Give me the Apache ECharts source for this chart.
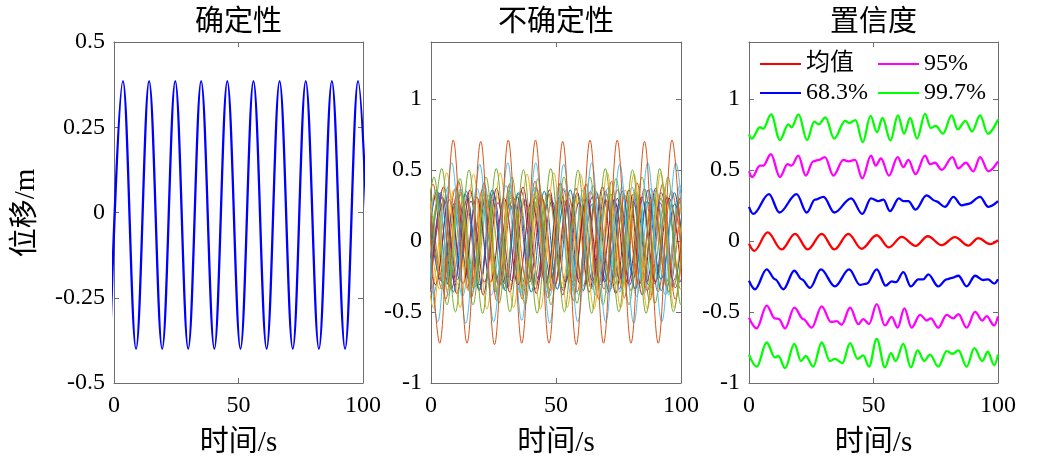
<!DOCTYPE html>
<html>
<head>
<meta charset="utf-8">
<script src="https://cdn.jsdelivr.net/npm/echarts@6/dist/echarts.min.js"></script>
<style>
  html, body { margin: 0; padding: 0; background: #fff; }
  #chart { width: 1040px; height: 468px; }
</style>
</head>
<body>
<div id="chart"></div>
<script>
// 各面板标题与坐标轴
const panelTitles = ['确定性', '不确定性', '置信度']
const xName = '时间/s'
const yName = '位移/m'

// 确定性响应：波峰/波谷读数点 [t, y]
const deterministic = [
  [-1.65, -0.40], [3.6, 0.385], [8.85, -0.40], [14.1, 0.385], [19.35, -0.40],
  [24.6, 0.385], [29.8, -0.40], [35.0, 0.385], [40.3, -0.40], [45.5, 0.385],
  [50.8, -0.40], [56.0, 0.385], [61.3, -0.40], [66.5, 0.385], [71.8, -0.40],
  [77.0, 0.385], [82.3, -0.40], [87.5, 0.385], [92.8, -0.40], [98.0, 0.385],
  [103.3, -0.40]
]

// 不确定性样本（各样本的极值点）
const s01 = [[-3,-0.30],[2,0.33],[7,-0.31],[12,0.34],[17,-0.32],[22,0.33],[27,-0.30],[32,0.32],[37,-0.33],[42,0.31],[47,-0.30],[52,0.33],[57,-0.32],[62,0.30],[67,-0.31],[72,0.33],[77,-0.30],[82,0.32],[87,-0.31],[92,0.30],[97,-0.32],[102,0.31]]
const s02 = [[-1,0.36],[4.4,-0.34],[9.8,0.37],[15.2,-0.35],[20.6,0.36],[26,-0.36],[31.4,0.35],[36.8,-0.34],[42.2,0.37],[47.6,-0.35],[53,0.36],[58.4,-0.36],[63.8,0.35],[69.2,-0.34],[74.6,0.36],[80,-0.35],[85.4,0.37],[90.8,-0.36],[96.2,0.35],[101.6,-0.34]]
const s03 = [[-4.7,0.30],[0.5,-0.32],[5.7,0.30],[10.9,-0.31],[16.1,0.32],[21.3,-0.30],[26.5,0.31],[31.7,-0.32],[36.9,0.30],[42.1,-0.31],[47.3,0.32],[52.5,-0.30],[57.7,0.31],[62.9,-0.32],[68.1,0.30],[73.3,-0.31],[78.5,0.32],[83.7,-0.30],[88.9,0.31],[94.1,-0.32],[99.3,0.30],[104.5,-0.31]]
const s04 = [[-3.1,-0.33],[2.5,0.35],[8.1,-0.34],[13.7,0.33],[19.3,-0.35],[24.9,0.34],[30.5,-0.33],[36.1,0.35],[41.7,-0.34],[47.3,0.33],[52.9,-0.35],[58.5,0.34],[64.1,-0.33],[69.7,0.35],[75.3,-0.34],[80.9,0.33],[86.5,-0.35],[92.1,0.34],[97.7,-0.33],[103.3,0.35]]
const s05 = [[-1.8,-0.28],[3,0.30],[7.8,-0.29],[12.6,0.28],[17.4,-0.30],[22.2,0.29],[27,-0.28],[31.8,0.30],[36.6,-0.29],[41.4,0.28],[46.2,-0.30],[51,0.29],[55.8,-0.28],[60.6,0.30],[65.4,-0.29],[70.2,0.28],[75,-0.30],[79.8,0.29],[84.6,-0.28],[89.4,0.30],[94.2,-0.29],[99,0.28],[103.8,-0.30]]
const s06 = [[-4.8,0.38],[1,-0.37],[6.8,0.38],[12.6,-0.39],[18.4,0.37],[24.2,-0.38],[30,0.39],[35.8,-0.37],[41.6,0.38],[47.4,-0.39],[53.2,0.37],[59,-0.38],[64.8,0.39],[70.6,-0.37],[76.4,0.38],[82.2,-0.39],[88,0.37],[93.8,-0.38],[99.6,0.39],[105.4,-0.37]]
const s07 = [[-0.3,-0.36],[5,0.38],[10.3,-0.37],[15.6,0.36],[20.9,-0.38],[26.2,0.37],[31.5,-0.36],[36.8,0.38],[42.1,-0.37],[47.4,0.36],[52.7,-0.38],[58,0.37],[63.3,-0.36],[68.6,0.38],[73.9,-0.37],[79.2,0.36],[84.5,-0.38],[89.8,0.37],[95.1,-0.36],[100.4,0.38]]
const s08 = [[-1.5,0.27],[4,-0.28],[9.5,0.27],[15,-0.26],[20.5,0.28],[26,-0.27],[31.5,0.26],[37,-0.28],[42.5,0.27],[48,-0.26],[53.5,0.28],[59,-0.27],[64.5,0.26],[70,-0.28],[75.5,0.27],[81,-0.26],[86.5,0.28],[92,-0.27],[97.5,0.26],[103,-0.28]]
const s09 = [[-4.3,-0.42],[0.8,0.40],[5.9,-0.41],[11,0.42],[16.1,-0.40],[21.2,0.41],[26.3,-0.42],[31.4,0.40],[36.5,-0.41],[41.6,0.42],[46.7,-0.40],[51.8,0.41],[56.9,-0.42],[62,0.40],[67.1,-0.41],[72.2,0.42],[77.3,-0.40],[82.4,0.41],[87.5,-0.42],[92.6,0.40],[97.7,-0.41],[102.8,0.42]]
const s10 = [[-2.2,0.35],[3.5,-0.34],[9.2,0.36],[14.9,-0.35],[20.6,0.34],[26.3,-0.36],[32,0.35],[37.7,-0.34],[43.4,0.36],[49.1,-0.35],[54.8,0.34],[60.5,-0.36],[66.2,0.35],[71.9,-0.34],[77.6,0.36],[83.3,-0.35],[89,0.34],[94.7,-0.36],[100.4,0.35]]
const s11 = [[-0.5,-0.30],[4.5,0.31],[9.5,-0.29],[14.5,0.30],[19.5,-0.31],[24.5,0.29],[29.5,-0.30],[34.5,0.31],[39.5,-0.29],[44.5,0.30],[49.5,-0.31],[54.5,0.29],[59.5,-0.30],[64.5,0.31],[69.5,-0.29],[74.5,0.30],[79.5,-0.31],[84.5,0.29],[89.5,-0.30],[94.5,0.31],[99.5,-0.29],[104.5,0.30]]
const s12 = [[-0.4,0.33],[5.5,-0.32],[11.4,0.34],[17.3,-0.33],[23.2,0.32],[29.1,-0.34],[35,0.33],[40.9,-0.32],[46.8,0.34],[52.7,-0.33],[58.6,0.32],[64.5,-0.34],[70.4,0.33],[76.3,-0.32],[82.2,0.34],[88.1,-0.33],[94,0.32],[99.9,-0.34],[105.8,0.33]]
const s13 = [[-2.9,-0.37],[2,0.36],[6.9,-0.38],[11.8,0.37],[16.7,-0.36],[21.6,0.38],[26.5,-0.37],[31.4,0.36],[36.3,-0.38],[41.2,0.37],[46.1,-0.36],[51,0.38],[55.9,-0.37],[60.8,0.36],[65.7,-0.38],[70.6,0.37],[75.5,-0.36],[80.4,0.38],[85.3,-0.37],[90.2,0.36],[95.1,-0.38],[100,0.37],[104.9,-0.36]]
const s14 = [[-3.7,0.30],[1.8,-0.31],[7.3,0.29],[12.8,-0.30],[18.3,0.31],[23.8,-0.29],[29.3,0.30],[34.8,-0.31],[40.3,0.29],[45.8,-0.30],[51.3,0.31],[56.8,-0.29],[62.3,0.30],[67.8,-0.31],[73.3,0.29],[78.8,-0.30],[84.3,0.31],[89.8,-0.29],[95.3,0.30],[100.8,-0.31]]
const s15 = [[-1.5,-0.35],[3.7,0.34],[8.9,-0.36],[14.1,0.35],[19.3,-0.34],[24.5,0.36],[29.7,-0.35],[34.9,0.34],[40.1,-0.36],[45.3,0.35],[50.5,-0.34],[55.7,0.36],[60.9,-0.35],[66.1,0.34],[71.3,-0.36],[76.5,0.35],[81.7,-0.34],[86.9,0.36],[92.1,-0.35],[97.3,0.34],[102.5,-0.36]]
const s16 = [[-0.8,0.31],[4.8,-0.30],[10.4,0.32],[16,-0.31],[21.6,0.30],[27.2,-0.32],[32.8,0.31],[38.4,-0.30],[44,0.32],[49.6,-0.31],[55.2,0.30],[60.8,-0.32],[66.4,0.31],[72,-0.30],[77.6,0.32],[83.2,-0.31],[88.8,0.30],[94.4,-0.32],[100,0.31],[105.6,-0.30]]
const s17 = [[-0.2,-0.28],[5.2,0.29],[10.6,-0.27],[16,0.28],[21.4,-0.29],[26.8,0.27],[32.2,-0.28],[37.6,0.29],[43,-0.27],[48.4,0.28],[53.8,-0.29],[59.2,0.27],[64.6,-0.28],[70,0.29],[75.4,-0.27],[80.8,0.28],[86.2,-0.29],[91.6,0.27],[97,-0.28],[102.4,0.29]]
const s18 = [[-3.5,-0.34],[1.5,0.33],[6.5,-0.35],[11.5,0.34],[16.5,-0.33],[21.5,0.35],[26.5,-0.34],[31.5,0.33],[36.5,-0.35],[41.5,0.34],[46.5,-0.33],[51.5,0.35],[56.5,-0.34],[61.5,0.33],[66.5,-0.35],[71.5,0.34],[76.5,-0.33],[81.5,0.35],[86.5,-0.34],[91.5,0.33],[96.5,-0.35],[101.5,0.34]]
const s19 = [[-4,-0.44],[1.2,0.45],[6.4,-0.45],[11.6,0.44],[16.8,-0.45],[22,0.45],[27.2,-0.44],[32.4,0.45],[37.6,-0.45],[42.8,0.44],[48,-0.45],[53.2,0.45],[58.4,-0.44],[63.6,0.45],[68.8,-0.45],[74,0.44],[79.2,-0.45],[84.4,0.45],[89.6,-0.44],[94.8,0.45],[100,-0.45],[105.2,0.44]]
const s20 = [[-4.4,0.47],[0.95,-0.47],[6.3,0.48],[11.65,-0.47],[17,0.47],[22.35,-0.48],[27.7,0.48],[33.05,-0.47],[38.4,0.47],[43.75,-0.48],[49.1,0.48],[54.45,-0.47],[59.8,0.47],[65.15,-0.48],[70.5,0.48],[75.85,-0.47],[81.2,0.47],[86.55,-0.48],[91.9,0.48],[97.25,-0.47],[102.6,0.47]]
const s21 = [[-1.15,-0.50],[4.3,0.51],[9.75,-0.50],[15.2,0.50],[20.65,-0.51],[26.1,0.51],[31.55,-0.50],[37,0.50],[42.45,-0.51],[47.9,0.51],[53.35,-0.50],[58.8,0.50],[64.25,-0.51],[69.7,0.51],[75.15,-0.50],[80.6,0.50],[86.05,-0.51],[91.5,0.51],[96.95,-0.50],[102.4,0.50]]
const s22 = [[-2.9,0.54],[2.7,-0.57],[8.3,0.55],[13.9,-0.58],[19.5,0.54],[25.1,-0.57],[30.7,0.55],[36.3,-0.56],[41.9,0.55],[47.5,-0.58],[53.1,0.54],[58.7,-0.57],[64.3,0.55],[69.9,-0.57],[75.5,0.54],[81.1,-0.58],[86.7,0.55],[92.3,-0.57],[97.9,0.55],[103.5,-0.57]]
const s23 = [[-2,0.70],[3.5,-0.72],[8.9,0.71],[14.4,-0.72],[19.9,0.70],[25.4,-0.73],[30.9,0.71],[36.3,-0.72],[41.8,0.71],[47.2,-0.72],[52.7,0.70],[58.1,-0.73],[63.6,0.71],[69,-0.72],[74.5,0.71],[80,-0.72],[85.4,0.70],[90.9,-0.72],[96.4,0.71],[101.8,-0.72]]
const samples = [s01, s02, s03, s04, s05, s06, s07, s08, s09, s10, s11, s12, s13, s14, s15, s16, s17, s18, s19, s20, s21, s22, s23]
const sampleColors = ['#0072BD', '#D95319', '#EDB120', '#7E2F8E', '#77AC30', '#4DBEEE', '#A2142F',
  '#0072BD', '#D95319', '#EDB120', '#7E2F8E', '#77AC30', '#4DBEEE', '#A2142F',
  '#0072BD', '#D95319', '#7E2F8E', '#EDB120', '#77AC30', '#EDB120', '#77AC30', '#4DBEEE', '#D95319']

// 置信区间
const meanLine = [[0,-0.02],[2.1,-0.07],[7.5,0.06],[13.1,-0.06],[18.5,0.05],[23.6,-0.06],[29.2,0.05],[34.3,-0.06],[39.9,0.05],[45.2,-0.055],[51.3,0.04],[56.2,-0.045],[61.3,0.028],[66.9,-0.035],[71.8,0.033],[77.4,-0.03],[82.7,0.026],[88.1,-0.033],[92.1,0.02],[96.8,-0.022],[100,0.005]]
const upper683 = [[0,0.24],[1.7,0.19],[8,0.33],[12.2,0.20],[19.1,0.33],[23.2,0.20],[26.5,0.29],[29.9,0.31],[34.3,0.20],[41,0.30],[45.5,0.19],[49,0.30],[52,0.28],[54,0.29],[56.6,0.21],[60.2,0.30],[62,0.28],[64,0.28],[66.9,0.22],[71.3,0.32],[75,0.28],[78.7,0.24],[82.1,0.31],[85.4,0.25],[88,0.26],[92.8,0.31],[96.1,0.24],[100,0.28]]
const lower683 = [[0,-0.28],[2.4,-0.34],[7.1,-0.20],[10.5,-0.27],[13.8,-0.34],[18.2,-0.21],[21.2,-0.27],[24.5,-0.33],[28.9,-0.20],[34.5,-0.32],[40.2,-0.20],[44.6,-0.31],[47.3,-0.30],[51.3,-0.20],[54.9,-0.315],[57.3,-0.285],[59,-0.29],[62,-0.22],[65,-0.32],[68,-0.27],[70,-0.27],[72,-0.235],[76,-0.32],[79.4,-0.27],[81.5,-0.26],[84.1,-0.245],[87.4,-0.32],[90.8,-0.245],[94,-0.275],[96,-0.27],[98.5,-0.30],[100,-0.27]]
const upper95 = [[0,0.49],[1.3,0.45],[4.4,0.53],[5.7,0.53],[8.8,0.61],[12.4,0.45],[15.5,0.54],[17.1,0.53],[19.8,0.60],[22.8,0.46],[25.8,0.56],[28,0.57],[30.5,0.59],[33.9,0.46],[37.9,0.57],[39.9,0.56],[42.6,0.57],[45.5,0.44],[49,0.60],[50.9,0.53],[53,0.58],[56.2,0.46],[59.7,0.59],[62,0.52],[64,0.57],[66.9,0.47],[70.7,0.60],[72.7,0.54],[74.7,0.55],[77.4,0.50],[81.7,0.59],[84.1,0.51],[87.1,0.55],[90.1,0.49],[92.8,0.59],[96.1,0.49],[100,0.56]]
const lower95 = [[0,-0.54],[3.1,-0.615],[7.1,-0.455],[10.4,-0.545],[12,-0.55],[14.5,-0.615],[18.2,-0.47],[21.8,-0.55],[25.2,-0.61],[29.2,-0.46],[32.9,-0.57],[35.2,-0.565],[37.2,-0.59],[40.6,-0.47],[43.9,-0.585],[45.9,-0.55],[48.2,-0.585],[51.3,-0.445],[54.6,-0.595],[57.3,-0.535],[59.7,-0.61],[62.4,-0.475],[65.3,-0.61],[68.7,-0.52],[71.4,-0.56],[73,-0.545],[76,-0.61],[79.4,-0.52],[82,-0.545],[84.1,-0.515],[87.4,-0.61],[90.8,-0.5],[93.7,-0.56],[95.4,-0.53],[98.5,-0.595],[100,-0.53]]
const upper997 = [[0,0.75],[1.1,0.72],[4.4,0.80],[5.7,0.79],[8.9,0.89],[12.4,0.71],[15.8,0.82],[17.1,0.80],[19.9,0.89],[23.3,0.71],[26.2,0.84],[28,0.82],[30.7,0.87],[34.2,0.72],[38.6,0.845],[40.2,0.83],[42.8,0.85],[45.7,0.695],[48.8,0.88],[51.4,0.765],[53.6,0.865],[56.8,0.707],[59.8,0.883],[62.3,0.755],[64.7,0.865],[67.5,0.72],[70.7,0.894],[73,0.795],[75,0.81],[77.9,0.755],[81.4,0.883],[83.8,0.785],[86.9,0.845],[89.6,0.77],[92.8,0.883],[95.9,0.755],[100,0.855]]
const lower997 = [[0,-0.80],[3.1,-0.885],[7.1,-0.715],[10.4,-0.82],[11.8,-0.81],[14.5,-0.895],[18.2,-0.725],[20.9,-0.845],[22.8,-0.81],[25.8,-0.885],[29.2,-0.715],[32.5,-0.845],[34.5,-0.83],[37.5,-0.86],[40.6,-0.72],[43.6,-0.83],[45.9,-0.805],[48.2,-0.885],[51.3,-0.69],[54.6,-0.89],[57,-0.79],[58.9,-0.845],[62,-0.725],[65,-0.89],[67.7,-0.77],[70.4,-0.845],[72.7,-0.80],[76,-0.885],[79.4,-0.775],[81.8,-0.795],[84.1,-0.77],[87.4,-0.885],[90.5,-0.755],[93.7,-0.845],[95.9,-0.78],[98.5,-0.875],[100,-0.80]]

const FONT = '"Liberation Serif", "Noto Sans CJK SC", serif'
const FRAME = '#6e6e6e'

const myChart = echarts.init(document.getElementById('chart'), null, { renderer: 'canvas' })

const grids = [
  { left: 114, top: 42, width: 249, height: 341 },
  { left: 431, top: 42, width: 250, height: 341 },
  { left: 749, top: 42, width: 249, height: 341 }
]

const xAxes = []
const yAxes = []
const yRanges = [[-0.5, 0.5, 0.25], [-1, 1.4, 0.5], [-1, 1.4, 0.5]]
grids.forEach((g, i) => {
  ;['bottom', 'top'].forEach(pos => {
    xAxes.push({
      type: 'value', gridIndex: i, position: pos, min: 0, max: 100, interval: 50,
      axisLine: { show: true, onZero: false, lineStyle: { color: FRAME, width: 1 } },
      axisTick: { show: true, inside: true, length: 5, lineStyle: { color: FRAME } },
      axisLabel: { show: pos === 'bottom', fontSize: 24, fontFamily: FONT, color: '#000', margin: 11 },
      splitLine: { show: false }
    })
  })
  ;['left', 'right'].forEach(pos => {
    yAxes.push({
      type: 'value', gridIndex: i, position: pos,
      min: yRanges[i][0], max: yRanges[i][1], interval: yRanges[i][2],
      axisLine: { show: true, onZero: false, lineStyle: { color: FRAME, width: 1 } },
      axisTick: { show: true, inside: true, length: 5, lineStyle: { color: FRAME } },
      axisLabel: { show: pos === 'left', fontSize: 24, fontFamily: FONT, color: '#000', margin: 9, showMaxLabel: i === 0 },
      splitLine: { show: false }
    })
  })
})

function line (name, data, color, width, gi) {
  return {
    name, type: 'line', data,
    xAxisIndex: gi * 2, yAxisIndex: gi * 2,
    showSymbol: false, symbol: 'none',
    smooth: 0.36, smoothMonotone: 'x',
    clip: true, silent: true,
    lineStyle: { color, width },
    itemStyle: { color }
  }
}

const series = [line('确定性', deterministic, '#0000FF', 2.3, 0)]
samples.forEach((s, k) => series.push(line('样本' + (k + 1), s, sampleColors[k], 1, 1)))
series.push(
  line('99.7%', upper997, '#00FF00', 2.3, 2),
  line('95%', upper95, '#FF00FF', 2.3, 2),
  line('68.3%', upper683, '#0000FF', 2.3, 2),
  line('均值', meanLine, '#FF0000', 2.3, 2),
  line('68.3%', lower683, '#0000FF', 2.3, 2),
  line('95%', lower95, '#FF00FF', 2.3, 2),
  line('99.7%', lower997, '#00FF00', 2.3, 2)
)

const centers = grids.map(g => g.left + g.width / 2)
const texts = []
panelTitles.forEach((t, i) => {
  texts.push({ type: 'text', x: centers[i], y: 23, style: { text: t, font: '29px ' + FONT, fill: '#000', textAlign: 'center', textVerticalAlign: 'middle' } })
  texts.push({ type: 'text', x: centers[i], y: 443, style: { text: xName, font: '29px ' + FONT, fill: '#000', textAlign: 'center', textVerticalAlign: 'middle' } })
})
texts.push({ type: 'text', x: 26, y: 213, rotation: Math.PI / 2, style: { text: yName, font: '29px ' + FONT, fill: '#000', textAlign: 'center', textVerticalAlign: 'middle' } })

const legendBase = {
  orient: 'vertical', top: 47, icon: 'rect', itemWidth: 41, itemHeight: 2, itemGap: 5,
  textStyle: { fontSize: 24, fontFamily: FONT, color: '#000' },
  selectedMode: false
}

const option = {
  animation: false,
  backgroundColor: '#fff',
  grid: grids,
  xAxis: xAxes,
  yAxis: yAxes,
  legend: [
    Object.assign({}, legendBase, { left: 755, data: ['均值', '68.3%'] }),
    Object.assign({}, legendBase, { left: 873, data: ['95%', '99.7%'] })
  ],
  graphic: texts,
  series
}

myChart.setOption(option)
</script>
</body>
</html>
